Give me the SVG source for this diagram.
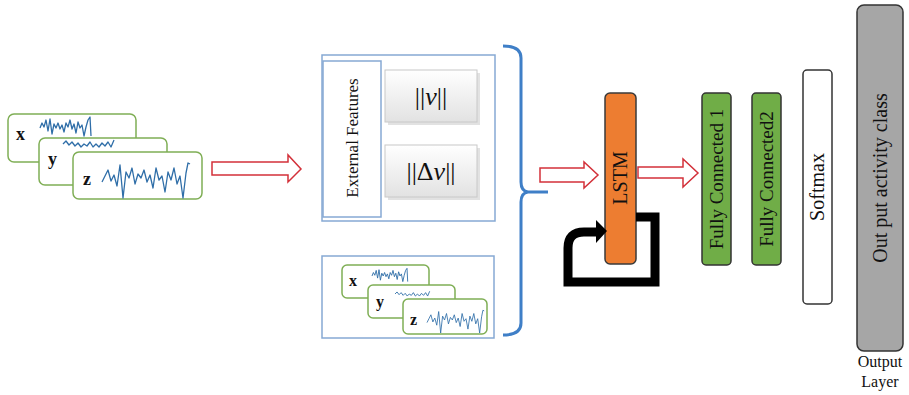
<svg xmlns="http://www.w3.org/2000/svg" width="909" height="395" viewBox="0 0 909 395">
<style>
.card{fill:#fff;stroke:#7fae55;stroke-width:1.5}
.wave{fill:none;stroke:#2f6ea8;stroke-width:1.3;stroke-linejoin:round}
.lbl{font-family:"Liberation Serif",serif;font-weight:bold;fill:#111}
.box{fill:#fff;stroke:#86a9d4;stroke-width:1.5}
.arrow{fill:#fff;stroke:#d3313a;stroke-width:1.5;stroke-linejoin:miter}
.vt{font-family:"Liberation Serif",serif;fill:#111;text-anchor:middle;dominant-baseline:central}
.btn{fill:url(#bg);stroke:#c8c8c8;stroke-width:1}
</style>
<defs>
<linearGradient id="bg" x1="0" y1="0" x2="0" y2="1">
<stop offset="0" stop-color="#ffffff"/>
<stop offset="1" stop-color="#e2e2e2"/>
</linearGradient>
<polyline id="wx" points="0,0 2,-5 4,-1 6,-8 8,3 10,-9 12,6 14,-4 16,0 18,-5 20,1 22,-3 24,4 26,-5 28,-1 30,-8 32,1 34,-4 36,5 38,-6 40,0 42,-3 44,8 46,-1 48,-8 50,-11 51,8"/>
<polyline id="wy" points="0,0 3,-3 6,1 9,-2 12,2 15,-1 18,3 21,0 24,2 27,-2 30,3 33,0 36,3 39,-1 42,2 45,-2 48,3 51,-4"/>
<polyline id="wz" points="0,4 3,-2 6,-8 9,3 12,-3 15,8 18,-13 21,20 24,-6 27,0 30,-10 33,6 36,-4 39,0 42,-8 45,4 48,-3 51,10 54,-10 57,2 60,-2 63,14 66,-6 69,2 72,-10 75,6 78,-2 81,20 84,-5 86,-15 88,-14"/>
</defs>
<rect width="909" height="395" fill="#fff"/>

<g id="input-signals">
<rect class="card" x="8" y="114" width="128" height="48" rx="6"/>
<text class="lbl" x="16" y="140" font-size="18">x</text>
<use href="#wx" class="wave" transform="translate(40,128)"/>
<rect class="card" x="39" y="138" width="128" height="47" rx="6"/>
<text class="lbl" x="48" y="165" font-size="18">y</text>
<use href="#wy" class="wave" transform="translate(63,144)"/>
<rect class="card" x="73" y="152" width="129" height="47" rx="6"/>
<text class="lbl" x="83" y="185" font-size="18">z</text>
<use href="#wz" class="wave" transform="translate(102,178)"/>
</g>

<g id="external-features">
<rect class="box" x="322" y="55" width="173" height="166"/>
<rect class="box" x="323" y="61" width="58" height="156" stroke="#6f8fb8"/>
<text class="vt" font-size="17" transform="rotate(-90 352 138)" x="352" y="138">External Features</text>
<rect x="388" y="73" width="92" height="52" fill="#cfcfcf" opacity="0.6"/>
<rect class="btn" x="385" y="70" width="92" height="52"/>
<text x="431" y="105" font-family="Liberation Serif,serif" font-size="26" text-anchor="middle" fill="#111">||<tspan font-style="italic">v</tspan>||</text>
<rect x="388" y="148" width="92" height="52" fill="#cfcfcf" opacity="0.6"/>
<rect class="btn" x="385" y="145" width="92" height="52"/>
<text x="431" y="180" font-family="Liberation Serif,serif" font-size="26" text-anchor="middle" fill="#111">||Δ<tspan font-style="italic">v</tspan>||</text>
</g>

<g id="raw-signals">
<rect class="box" x="322" y="256" width="172" height="82"/>
<rect class="card" x="342" y="265" width="87" height="33" rx="5"/>
<text class="lbl" x="349" y="286" font-size="16">x</text>
<use href="#wx" class="wave" transform="translate(372,276) scale(0.7)"/>
<rect class="card" x="368" y="285" width="87" height="33" rx="5"/>
<text class="lbl" x="376" y="307" font-size="16">y</text>
<use href="#wy" class="wave" transform="translate(395,294) scale(0.68)"/>
<rect class="card" x="403" y="299" width="84" height="35" rx="5"/>
<text class="lbl" x="410" y="325" font-size="16">z</text>
<use href="#wz" class="wave" transform="translate(427,320) scale(0.65)"/>
</g>

<g id="lstm">
<rect x="605" y="93" width="31" height="171" rx="5" fill="#ed7d31" stroke="#3a3a3a" stroke-width="1.5"/>
<text class="vt" font-size="20" transform="rotate(-90 620 178)" x="620" y="178">LSTM</text>
</g>
<g id="fc1">
<rect x="702" y="93" width="29" height="172" rx="4" fill="#70ad47" stroke="#333" stroke-width="1.5"/>
<text class="vt" font-size="19" transform="rotate(-90 716 179)" x="716" y="179">Fully Connected 1</text>
</g>
<g id="fc2">
<rect x="752" y="93" width="29" height="172" rx="4" fill="#70ad47" stroke="#333" stroke-width="1.5"/>
<text class="vt" font-size="19" transform="rotate(-90 766 179)" x="766" y="179">Fully Connected2</text>
</g>
<g id="softmax">
<rect x="803" y="70" width="29" height="234" rx="4" fill="#fff" stroke="#333" stroke-width="1.5"/>
<text class="vt" font-size="20" transform="rotate(-90 817 187)" x="817" y="187">Softmax</text>
</g>
<g id="output">
<rect x="857" y="5" width="46" height="346" rx="7" fill="#a6a6a6" stroke="#333" stroke-width="1.5"/>
<text class="vt" font-size="20" transform="rotate(-90 880 178)" x="880" y="178">Out put activity class</text>
<text x="880" y="367" font-family="Liberation Serif,serif" font-size="16" text-anchor="middle" fill="#111">Output</text>
<text x="880" y="387" font-family="Liberation Serif,serif" font-size="16" text-anchor="middle" fill="#111">Layer</text>
</g>

<g id="connectors">
<polygon class="arrow" points="212,162 288,162 288,155 301,169 288,182 288,175 212,175"/>
<path d="M503,46 Q521,46 521,58 V182 Q521,191 528,192 Q521,193 521,202 V323 Q521,335 503,335 M528,192 H548" fill="none" stroke="#3f7fc7" stroke-width="3"/>
<polygon class="arrow" points="540,168 584,168 584,162 598,175 584,188 584,182 540,182"/>
<polygon class="arrow" points="638,167 683,167 683,159 698,173 683,187 683,178 638,178"/>
<path d="M636,217 H655 V282 H568 V248 Q568,232 584,232 H598" fill="none" stroke="#000" stroke-width="9"/>
<polygon points="596,220 607,231 596,243" fill="#000"/>
</g>
</svg>
